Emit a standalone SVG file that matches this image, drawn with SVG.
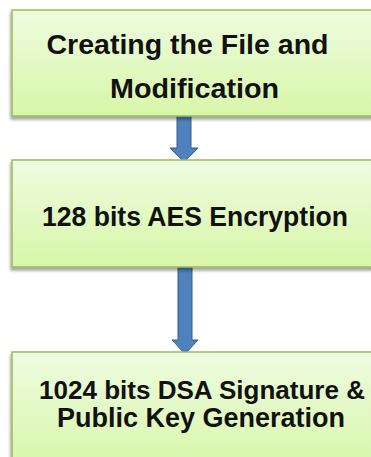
<svg xmlns="http://www.w3.org/2000/svg" width="371" height="457" viewBox="0 0 371 457">
<defs>
<linearGradient id="g" x1="0" y1="0" x2="0" y2="1">
<stop offset="0" stop-color="#eefce0"/>
<stop offset="1" stop-color="#d8f6a8"/>
</linearGradient>
<filter id="sh" x="-10%" y="-10%" width="120%" height="130%">
<feGaussianBlur in="SourceAlpha" stdDeviation="1.5"/>
<feOffset dx="-1" dy="3" result="b"/>
<feComponentTransfer><feFuncA type="linear" slope="0.35"/></feComponentTransfer>
<feMerge><feMergeNode/><feMergeNode in="SourceGraphic"/></feMerge>
</filter>
</defs>
<style>
.box{fill:url(#g);stroke:#9bbb59;stroke-width:1.5;filter:url(#sh)}
.t{font-family:"Liberation Sans",Arial,sans-serif;font-weight:bold;font-size:27px;fill:#111;text-anchor:middle}
.arr{fill:#4f81bd;stroke:#385d8a;stroke-width:1}
</style>
<g id="connectors">
<path class="arr" d="M177,114 H191 V148 H198 L184,162 L170,148 H177 Z"/>
<path class="arr" d="M178,267 H192 V340 H198 L185,354 L172,340 H178 Z"/>
</g>
<g id="node1">
<rect class="box" x="12" y="10" width="380" height="106"/>
<text class="t" x="187.5" y="54" textLength="282" lengthAdjust="spacingAndGlyphs">Creating the File and</text>
<text class="t" x="194.5" y="98" textLength="169" lengthAdjust="spacingAndGlyphs">Modification</text>
</g>
<g id="node2">
<rect class="box" x="12" y="160" width="380" height="107"/>
<text class="t" x="195" y="226" textLength="306" lengthAdjust="spacingAndGlyphs">128 bits AES Encryption</text>
</g>
<g id="node3">
<rect class="box" x="12" y="352" width="380" height="120"/>
<text class="t" x="202" y="399" style="font-size:25.5px" textLength="326" lengthAdjust="spacingAndGlyphs">1024 bits DSA Signature &amp;</text>
<text class="t" x="201" y="427" textLength="288" lengthAdjust="spacingAndGlyphs">Public Key Generation</text>
</g>
</svg>
